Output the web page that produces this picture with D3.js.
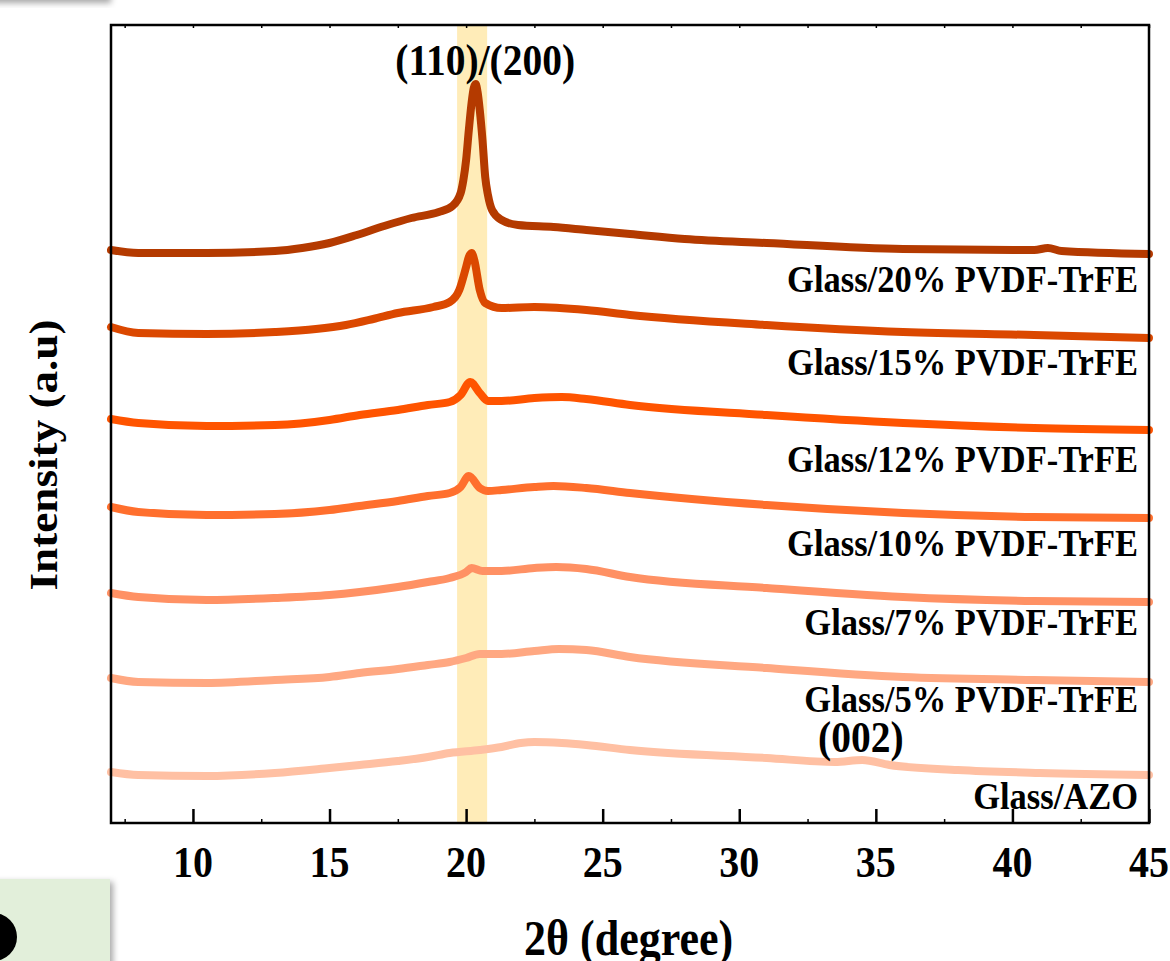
<!DOCTYPE html>
<html>
<head>
<meta charset="utf-8">
<script src="https://cdn.jsdelivr.net/npm/d3@7"></script>
<style>
  body { margin: 0; background: #fff; }
  text { font-family: 'Liberation Serif', 'Times New Roman', serif; font-weight: bold; fill: #000; }
</style>
</head>
<body>
<script>
// XRD patterns, [2theta, intensity (a.u., stacked as plotted)]
let pvdf20 = [[7, 573], [8, 570], [10.5, 570], [13, 572], [14, 575], [15, 580], [16, 588], [17, 597], [18, 605], [19, 611], [19.5, 617], [19.8, 630], [19.9, 643], [20.0, 663], [20.1, 693], [20.2, 720], [20.28, 735], [20.35, 739], [20.42, 731], [20.5, 713], [20.6, 683], [20.7, 646], [20.8, 628], [20.95, 613], [21.3, 603], [21.9, 598], [23.2, 596], [24.4, 593], [26, 589], [28, 584], [31, 580], [36, 574], [40.8, 573], [41.3, 575], [41.8, 572], [45, 569]]
let pvdf15 = [[7, 496], [8, 490], [10.5, 489], [13, 491], [14.5, 494], [15.6, 498], [16.6, 504], [17.5, 510], [18.8, 516], [19.4, 521], [19.75, 533], [20.0, 556], [20.1, 566], [20.2, 570], [20.3, 563], [20.5, 533], [20.7, 520], [21.3, 515], [22.5, 516], [24.4, 513], [26, 508], [31, 498], [36, 491], [40.8, 488], [45, 485]]
let pvdf12 = [[7, 404], [8, 400], [10.5, 397], [13, 398], [15, 403], [16.1, 408], [17.5, 413], [18.6, 418], [19.4, 421], [19.8, 428], [20.15, 441], [20.5, 430], [20.8, 422], [21.3, 422], [22.5, 425], [23.5, 426], [24.4, 424], [26, 418], [31, 408], [36, 400], [40.8, 395], [45, 393]]
let pvdf10 = [[7, 316], [8, 311], [10.5, 308], [13, 309], [15, 313], [16.1, 317], [17.5, 322], [18.6, 327], [19.4, 330], [19.8, 336], [20.1, 347], [20.5, 335], [20.8, 332], [21.3, 333], [22.5, 336], [23.2, 337], [24.4, 335], [26, 330], [31, 318], [36, 310], [40.8, 306], [45, 305]]
let pvdf7 = [[7, 230], [8, 226], [10.5, 223], [13, 225], [15, 228], [16.1, 231], [17.5, 236], [18.6, 241], [19.4, 245], [20.0, 251], [20.2, 255], [20.6, 252], [21.3, 252], [22.5, 255], [23.3, 256], [24.4, 254], [26, 246], [31, 235], [36, 226], [40.8, 222], [45, 221]]
let pvdf5 = [[7, 145], [8, 141], [10.5, 140], [13, 143], [15, 146], [16.1, 150], [17.5, 154], [18.6, 158], [19.4, 161], [20.0, 165], [20.5, 169], [21.3, 169], [22.5, 172], [23.4, 174], [24.4, 173], [26, 166], [31, 155], [36, 146], [40.8, 143], [45, 141]]
let azo = [[7, 51], [8, 48], [10.5, 47], [13, 50], [15, 55], [16.1, 58], [17.5, 62], [18.6, 66], [19.4, 70], [20.5, 73], [21.3, 76], [22, 80], [22.5, 81], [23.5, 80], [24.4, 78], [26, 73], [31, 65], [33.5, 61], [34.5, 63], [35.5, 58], [38, 53], [41, 50], [45, 48]]

let samples = ['Glass/20% PVDF-TrFE', 'Glass/15% PVDF-TrFE', 'Glass/12% PVDF-TrFE', 'Glass/10% PVDF-TrFE', 'Glass/7% PVDF-TrFE', 'Glass/5% PVDF-TrFE', 'Glass/AZO']
let patterns = [pvdf20, pvdf15, pvdf12, pvdf10, pvdf7, pvdf5, azo]
let colors = ['#b43a00', '#db4800', '#ff5400', '#ff6f2d', '#ff9164', '#ffa882', '#ffc0a3']
let labelLevels = [531, 448, 351, 267, 188, 111, 14]   // intensity level of each label baseline
let xTicks = [10, 15, 20, 25, 30, 35, 40, 45]
let minorTicks = [7.5, 12.5, 17.5, 22.5, 27.5, 32.5, 37.5, 42.5]
let peakBand = [19.67, 20.77]
let peakLabel = { text: '(110)/(200)', x: 20.7, y: 748 }
let znoLabel = { text: '(002)', x: 34.45, y: 71 }

let width = 1170,
  height = 961

let margin = { top: 25, bottom: 138, left: 111, right: 21 }
let stretch = 1.13

let svg = d3.select('body')
  .append('svg')
  .attr('width', width)
  .attr('height', height)

let defs = svg.append('defs')
defs.append('filter')
  .attr('id', 'shadow')
  .attr('x', '-20%').attr('y', '-20%').attr('width', '140%').attr('height', '140%')
  .append('feDropShadow')
  .attr('dx', 3).attr('dy', 3).attr('stdDeviation', 3)
  .attr('flood-color', '#000').attr('flood-opacity', 0.35)

// bits of the neighbouring slide panels
svg.append('rect')
  .attr('x', -20).attr('y', -40).attr('width', 128).attr('height', 40)
  .attr('fill', '#f4f4f4').attr('filter', 'url(#shadow)')
svg.append('rect')
  .attr('x', -20).attr('y', 879).attr('width', 130).attr('height', 110)
  .attr('fill', '#e2efda').attr('filter', 'url(#shadow)')
svg.append('circle')
  .attr('cx', -7).attr('cy', 937).attr('r', 24)
  .attr('fill', '#000')

let chartWidth = width - margin.left - margin.right
let chartHeight = height - margin.top - margin.bottom

let x = d3.scaleLinear().domain([7, 45]).range([0, chartWidth])
let y = d3.scaleLinear().domain([0, chartHeight]).range([chartHeight, 0])

let chart = svg.append('g')
  .attr('transform', `translate(${margin.left}, ${margin.top})`)

chart.append('rect')
  .attr('x', x(peakBand[0]))
  .attr('y', 0)
  .attr('width', x(peakBand[1]) - x(peakBand[0]))
  .attr('height', chartHeight)
  .attr('fill', '#ffecb8')

let line = d3.line()
  .x(d => x(d[0]))
  .y(d => y(d[1]))
  .curve(d3.curveMonotoneX)

patterns.forEach((p, i) => {
  chart.append('path')
    .datum(p)
    .attr('d', line)
    .attr('fill', 'none')
    .attr('stroke', colors[i])
    .attr('stroke-width', 8)
    .attr('stroke-linecap', 'round')
    .attr('stroke-linejoin', 'round')
})

function stretchedText (g, tx, ty, size, anchor, str) {
  return g.append('text')
    .attr('transform', `translate(${tx}, ${ty}) scale(1, ${stretch})`)
    .attr('text-anchor', anchor)
    .attr('font-size', size + 'px')
    .text(str)
}

samples.forEach((s, i) => {
  stretchedText(chart, chartWidth - 11, y(labelLevels[i]), 34.5, 'end', s)
})

stretchedText(chart, x(peakLabel.x), y(peakLabel.y), 39.5, 'middle', peakLabel.text)
stretchedText(chart, x(znoLabel.x), y(znoLabel.y), 39.5, 'middle', znoLabel.text)

// frame
chart.append('rect')
  .attr('x', 0).attr('y', 0)
  .attr('width', chartWidth).attr('height', chartHeight)
  .attr('fill', 'none')
  .attr('stroke', '#000')
  .attr('stroke-width', 2.5)

let xAxis = chart.append('g')
  .attr('transform', `translate(0, ${chartHeight})`)
  .call(d3.axisBottom(x).tickValues(xTicks).tickSizeInner(-14).tickSizeOuter(0).tickFormat(''))
xAxis.select('.domain').remove()
xAxis.selectAll('line').attr('stroke-width', 2.5)

let xMinor = chart.append('g')
  .attr('transform', `translate(0, ${chartHeight})`)
  .call(d3.axisBottom(x).tickValues(minorTicks).tickSizeInner(-4).tickSizeOuter(0).tickFormat(''))
xMinor.select('.domain').remove()
xMinor.selectAll('line').attr('stroke-width', 1.5)

let xTop = chart.append('g')
  .call(d3.axisTop(x).tickValues(xTicks.concat(minorTicks)).tickSizeInner(-3).tickSizeOuter(0).tickFormat(''))
xTop.select('.domain').remove()
xTop.selectAll('line').attr('stroke-width', 1.5)

xTicks.forEach(t => {
  stretchedText(chart, x(t), chartHeight + 54, 40, 'middle', t)
})

stretchedText(svg, margin.left + x(25.95), 955, 44, 'middle', '2θ (degree)')

svg.append('text')
  .attr('transform', `translate(57, 455) scale(1, ${stretch}) rotate(-90)`)
  .attr('text-anchor', 'middle')
  .attr('font-size', '40px')
  .text('Intensity (a.u)')
</script>
</body>
</html>
